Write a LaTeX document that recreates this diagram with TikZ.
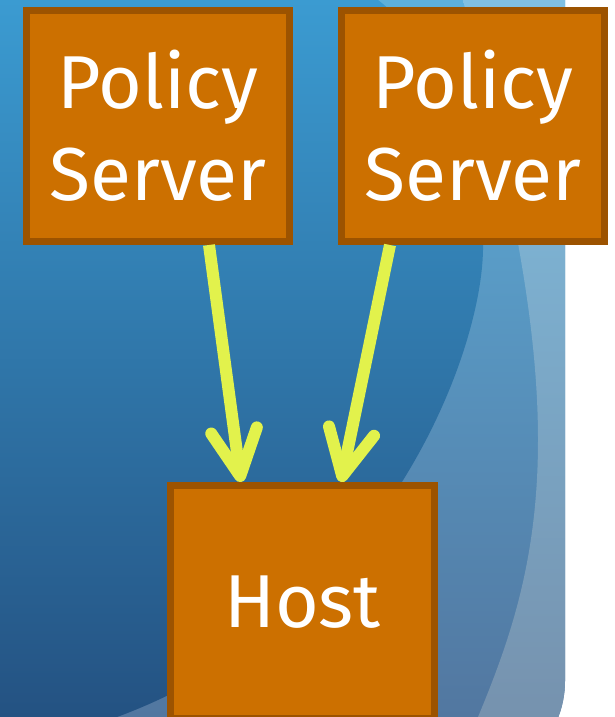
\documentclass[tikz,border=0pt]{standalone}
\usepackage{fontspec}
\setmainfont{Fira Sans}
\usetikzlibrary{arrows.meta,calc}
\definecolor{boxfill}{HTML}{CC7000}
\definecolor{boxline}{HTML}{9C5300}
\definecolor{arrowc}{HTML}{E2F24C}
\definecolor{darktop}{HTML}{3B9BD1}
\definecolor{darkbot}{HTML}{245282}
\definecolor{midtop}{HTML}{5DB0DC}
\definecolor{midbot}{HTML}{5277A0}
\definecolor{outtop}{HTML}{80C0E2}
\definecolor{outbot}{HTML}{7692AE}
\begin{document}
\begin{tikzpicture}[x=1pt,y=-1pt,
  box/.style={draw=boxline, fill=boxfill, line width=7pt, text=white,
    font=\fontsize{75}{92}\selectfont, align=center, inner sep=0pt},
  arr/.style={draw=arrowc, line width=12pt,
    -{Straight Barb[round,length=46pt,width=46pt]}}]
\useasboundingbox (0,0) rectangle (614,717);
\clip (0,0) rectangle (614,717);
\fill[white] (0,0) rectangle (614,717);
\begin{scope}
  \clip[rounded corners=100pt] (-200,-200) rectangle (565,781);
  \shade[top color=midtop, bottom color=midbot] (0,0) rectangle (614,717);
  \shade[top color=outtop, bottom color=outbot]
    (463,0) .. controls (500,150) and (538,300) .. (538,440)
    .. controls (538,560) and (510,640) .. (478,717)
    -- (614,717) -- (614,0) -- cycle;
  \shade[top color=darktop, bottom color=darkbot]
    (0,0) -- (378,0) .. controls (430,40) and (485,140) .. (483,250)
    .. controls (481,360) and (380,620) .. (117,717)
    -- (0,717) -- cycle;
\end{scope}
\node[box, minimum width=263pt, minimum height=231pt] (ps1) at (158,126) {Policy\\Server};
\node[box, minimum width=263pt, minimum height=231pt] (ps2) at (473,126) {Policy\\Server};
\node[box, minimum width=264pt, minimum height=233pt] (host) at (302.5,602) {Host};
\draw[arr] ([xshift=51pt]ps1.south) -- ([xshift=-61.5pt]host.north);
\draw[arr] ([xshift=-83pt]ps2.south) -- ([xshift=38.5pt]host.north);
\end{tikzpicture}
\end{document}
